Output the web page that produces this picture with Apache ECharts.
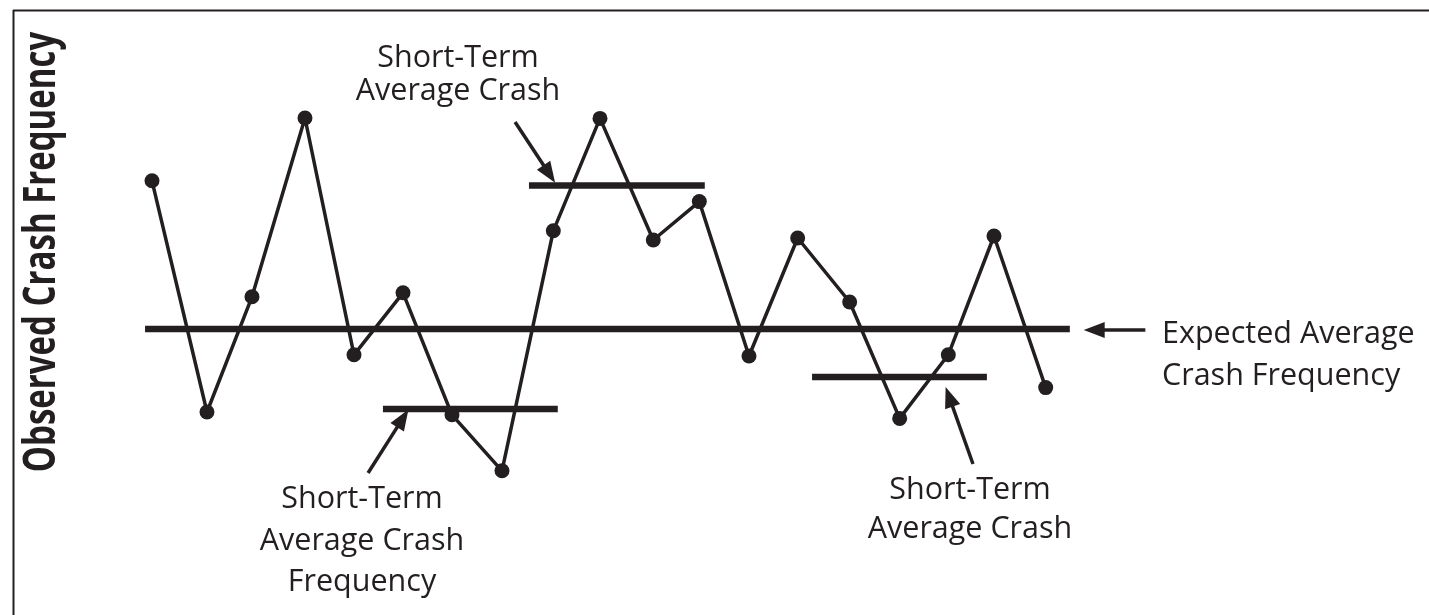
<!DOCTYPE html>
<html>
<head>
    <meta charset="utf-8">
    <title>Observed Crash Frequency</title>
    <script type="text/javascript" src="https://cdn.jsdelivr.net/npm/echarts@6/dist/echarts.min.js"></script>
    <style>
        html, body { margin: 0; padding: 0; background: #fff; }
    </style>
</head>
<body>
    <div id="main" style="width: 1429px;height:615px;"></div>
    <script type="text/javascript">
    var ink = '#231f20';

    // observed crash frequency per period (arbitrary units, 0-10)
    // periods are not quite evenly spaced in the original drawing
    var periods = [0, 1.107, 2.013, 3.08, 4.067, 5.054, 6.04, 7.047, 8.08, 9.02,
                   10.093, 11.02, 12.02, 13.0, 14.047, 15.054, 16.033, 16.953, 17.994];
    var observed = [7.98, 2.2, 5.08, 9.55, 3.63, 5.18, 2.13, 0.73, 6.73, 9.54,
                    6.5, 7.46, 3.6, 6.55, 4.95, 2.04, 3.63, 6.6, 2.81];

    // long run expected average and its extent on the period axis
    var expectedAvg = 4.275;
    var expectedSpan = [-0.14, 18.48];

    // short-term averages: start, end (period axis), level
    var stStart = [4.65, 7.59, 13.29];
    var stEnd = [8.17, 11.13, 16.81];
    var stValue = [2.275, 7.86, 3.075];

    // arrows: tail -> head, in data units
    var arrowFrom = [[20.0, 4.25], [7.31, 9.45], [4.35, 0.675], [16.53, 0.9]];
    var arrowTo = [[18.97, 4.25], [8.0, 8.15], [5.05, 2.04], [16.05, 2.58]];

    var myChart = echarts.init(document.getElementById('main'), null, {renderer: 'canvas'});

    var series = [];
    series.push({
        name: 'Expected',
        type: 'line',
        data: [[expectedSpan[0], expectedAvg], [expectedSpan[1], expectedAvg]],
        symbol: 'none',
        lineStyle: {color: ink, width: 6.5},
        z: 2
    });
    for (var i = 0; i < stValue.length; i++) {
        series.push({
            name: 'Short' + i,
            type: 'line',
            data: [[stStart[i], stValue[i]], [stEnd[i], stValue[i]]],
            symbol: 'none',
            lineStyle: {color: ink, width: 6.5},
            z: 2
        });
    }
    series.push({
        name: 'Observed',
        type: 'line',
        data: observed.map(function (v, k) { return [periods[k], v]; }),
        symbol: 'circle',
        symbolSize: 15,
        itemStyle: {color: ink},
        lineStyle: {color: ink, width: 3.5},
        z: 3,
        markLine: {
            silent: true,
            symbol: ['none', 'triangle'],
            symbolSize: [16, 21],
            label: {show: false},
            lineStyle: {color: ink, width: 3.5, type: 'solid'},
            data: arrowFrom.map(function (a, k) {
                return [{coord: a}, {coord: arrowTo[k]}];
            })
        }
    });

    var txt = {fontFamily: 'Open Sans', fontSize: 30.5, fill: ink};

    option = {
        animation: false,
        backgroundColor: '#fff',
        grid: {left: 102.33, width: 1092.67, top: 100, height: 400},
        xAxis: {type: 'value', min: -1, max: 21, show: false},
        yAxis: {type: 'value', min: 0, max: 10, show: false},
        series: series,
        graphic: [
            {type: 'line', shape: {x1: 13, y1: 10.5, x2: 1429, y2: 10.5}, style: {stroke: ink, lineWidth: 2}},
            {type: 'line', shape: {x1: 13.5, y1: 10, x2: 13.5, y2: 615}, style: {stroke: ink, lineWidth: 2}},
            {
                type: 'text', x: 42, y: 252, rotation: Math.PI / 2, scaleY: 1.35,
                style: {text: 'Observed Crash Frequency', fontFamily: 'Open Sans', fontWeight: 'bold',
                        fontSize: 33, fill: ink, align: 'center', verticalAlign: 'middle'}
            },
            {
                type: 'text', x: 458, y: 75,
                style: Object.assign({text: 'Short-Term\nAverage Crash', lineHeight: 33,
                        align: 'center', verticalAlign: 'middle'}, txt)
            },
            {
                type: 'text', x: 362, y: 541,
                style: Object.assign({text: 'Short-Term\nAverage Crash\nFrequency', lineHeight: 41.75,
                        align: 'center', verticalAlign: 'middle'}, txt)
            },
            {
                type: 'text', x: 970, y: 510,
                style: Object.assign({text: 'Short-Term\nAverage Crash', lineHeight: 39.5,
                        align: 'center', verticalAlign: 'middle'}, txt)
            },
            {
                type: 'text', x: 1162, y: 355,
                style: Object.assign({text: 'Expected Average\nCrash Frequency', lineHeight: 42,
                        align: 'left', verticalAlign: 'middle'}, txt)
            }
        ]
    };

    myChart.setOption(option);
    </script>
</body>
</html>
